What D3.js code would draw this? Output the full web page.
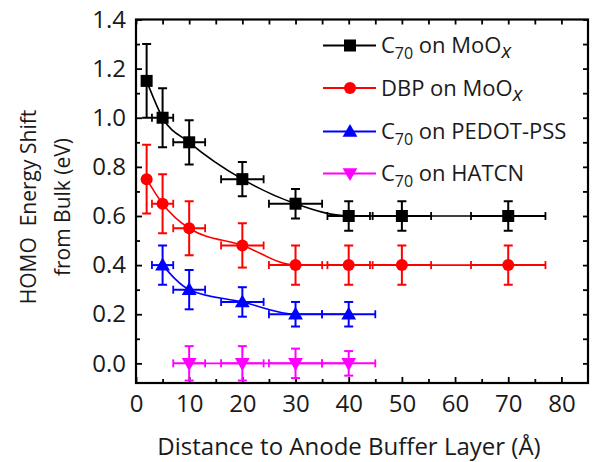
<!DOCTYPE html>
<html><head><meta charset="utf-8">
<script src="https://cdn.jsdelivr.net/npm/d3@7"></script>
<style>
html,body{margin:0;padding:0;background:#fff;}
text{font-family:"Open Sans",sans-serif;}
</style></head>
<body>
<svg id="chart" width="595" height="462"></svg>
<script>
// ---- data ----
const c70MoOxX    = [2, 5, 10, 20, 30, 40, 50, 70];
const c70MoOxY    = [1.15, 1.00, 0.90, 0.75, 0.65, 0.60, 0.60, 0.60];
const c70MoOxYErr = [0.15, 0.12, 0.09, 0.07, 0.06, 0.06, 0.06, 0.06];
const c70MoOxXErr = [0, 2, 3, 4, 5, 4, 5.5, 7];

const dbpMoOxX    = [2, 5, 10, 20, 30, 40, 50, 70];
const dbpMoOxY    = [0.75, 0.65, 0.55, 0.48, 0.40, 0.40, 0.40, 0.40];
const dbpMoOxYErr = [0.14, 0.12, 0.11, 0.09, 0.08, 0.08, 0.08, 0.08];
const dbpMoOxXErr = [0, 2, 3, 4, 5, 4, 5.5, 7];

const c70PedotX    = [5, 10, 20, 30, 40];
const c70PedotY    = [0.40, 0.30, 0.25, 0.20, 0.20];
const c70PedotYErr = [0.08, 0.08, 0.06, 0.05, 0.05];
const c70PedotXErr = [2, 3, 4, 5, 5];

const c70HatcnX    = [10, 20, 30, 40];
const c70HatcnY    = [0.00, 0.00, 0.00, 0.00];
const c70HatcnYErr = [0.07, 0.07, 0.06, 0.05];
const c70HatcnXErr = [3, 4, 5, 5];

const xTicks = [0, 10, 20, 30, 40, 50, 60, 70, 80];
const yTicks = [0.0, 0.2, 0.4, 0.6, 0.8, 1.0, 1.2, 1.4];
const xTitle = "Distance to Anode Buffer Layer (Å)";
const yTitle1 = "HOMO  Energy Shift";
const yTitle2 = "from Bulk (eV)";

const seriesList = [
  {name:["C", "70", " on MoO", "x"], color:"#000000", shape:"square", x:c70MoOxX, y:c70MoOxY, ye:c70MoOxYErr, xe:c70MoOxXErr},
  {name:["DBP on MoO", "", "", "x"], color:"#ff0000", shape:"circle", x:dbpMoOxX, y:dbpMoOxY, ye:dbpMoOxYErr, xe:dbpMoOxXErr},
  {name:["C", "70", " on PEDOT-PSS", ""], color:"#0000ff", shape:"triangle", x:c70PedotX, y:c70PedotY, ye:c70PedotYErr, xe:c70PedotXErr},
  {name:["C", "70", " on HATCN", ""], color:"#ff00ff", shape:"triangleDown", x:c70HatcnX, y:c70HatcnY, ye:c70HatcnYErr, xe:c70HatcnXErr}
];

// ---- layout ----
const L = 136, R = 588, T = 19.5, B = 383;
const svg = d3.select("#chart");
const x = d3.scaleLinear().domain([0, 85]).range([L, R]);
const y = d3.scaleLinear().domain([-0.08, 1.4]).range([B, T]);

svg.append("clipPath").attr("id","clip").append("rect")
  .attr("x", L).attr("y", T).attr("width", R-L).attr("height", B-T);

// ---- axes (ticks inward) ----
const xMinor = d3.range(5, 85, 10);
const yMinor = d3.range(0.1, 1.4, 0.2);
const fmt = d3.format(".1f");

const gB = svg.append("g").attr("transform", `translate(0,${B})`)
  .call(d3.axisBottom(x).tickValues(xTicks).tickSizeInner(-6).tickSizeOuter(0).tickPadding(12).tickFormat(d3.format("d")));
const gBm = svg.append("g").attr("transform", `translate(0,${B})`)
  .call(d3.axisBottom(x).tickValues(xMinor).tickSizeInner(-4).tickSizeOuter(0).tickFormat(""));
const gT = svg.append("g").attr("transform", `translate(0,${T})`)
  .call(d3.axisTop(x).tickValues(xTicks.concat(xMinor)).tickSizeInner(-5).tickSizeOuter(0).tickFormat(""));
const gL = svg.append("g").attr("transform", `translate(${L},0)`)
  .call(d3.axisLeft(y).tickValues(yTicks).tickSizeInner(-6).tickSizeOuter(0).tickPadding(10).tickFormat(fmt));
const gLm = svg.append("g").attr("transform", `translate(${L},0)`)
  .call(d3.axisLeft(y).tickValues(yMinor).tickSizeInner(-4).tickSizeOuter(0).tickFormat(""));
const gR = svg.append("g").attr("transform", `translate(${R},0)`)
  .call(d3.axisRight(y).tickValues(yTicks.concat(yMinor)).tickSizeInner(-5).tickSizeOuter(0).tickFormat(""));

[gB,gBm,gT,gL,gLm,gR].forEach(g=>{
  g.select(".domain").remove();
  g.selectAll(".tick line").attr("stroke","#000").attr("stroke-width",1.8);
  g.selectAll(".tick text").attr("fill","#1a1a1a").style("font-size","24px").style("font-family","'Open Sans',sans-serif");
});
svg.append("rect").attr("x", L).attr("y", T).attr("width", R-L).attr("height", B-T)
  .attr("fill","none").attr("stroke","#000").attr("stroke-width",2.2);

// ---- titles ----
svg.append("text").attr("x", 349).attr("y", 455).attr("text-anchor","middle")
  .style("font-size","24px").attr("fill","#1a1a1a").text(xTitle);
svg.append("text").attr("transform","translate(28,207) rotate(-90)").attr("text-anchor","middle")
  .attr("dominant-baseline","central").style("font-size","21px").attr("fill","#1a1a1a").style("white-space","pre")
  .attr("xml:space","preserve").text(yTitle1);
svg.append("text").attr("transform","translate(62,207) rotate(-90)").attr("text-anchor","middle")
  .attr("dominant-baseline","central").style("font-size","21px").attr("fill","#1a1a1a").text(yTitle2);

// ---- symbols ----
function drawMarker(g, shape, cx, cy, color){
  if(shape==="square"){
    g.append("rect").attr("x",cx-6).attr("y",cy-6).attr("width",12).attr("height",12).attr("fill",color);
  } else if(shape==="circle"){
    g.append("circle").attr("cx",cx).attr("cy",cy).attr("r",6).attr("fill",color);
  } else {
    const sym = d3.symbol().type(d3.symbolTriangle).size(95);
    g.append("path").attr("d", sym()).attr("fill",color)
      .attr("transform",`translate(${cx},${cy + (shape==="triangle"? 1 : -1)}) rotate(${shape==="triangle"?0:180})`);
  }
}

const plot = svg.append("g").attr("clip-path","url(#clip)");
const order = [3,2,1,0];
order.forEach(i=>{
  const s = seriesList[i];
  const g = plot.append("g");
  const pts = s.x.map((xv,k)=>({x:xv, y:s.y[k], ye:s.ye[k], xe:s.xe[k]}));
  const line = d3.line().x(d=>x(d.x)).y(d=>y(d.y)).curve(d3.curveMonotoneX);
  g.append("path").datum(pts).attr("d", line).attr("fill","none").attr("stroke",s.color).attr("stroke-width",1.6);
  pts.forEach(d=>{
    const cx = x(d.x), cy = y(d.y);
    const yt = y(d.y + d.ye), yb = y(d.y - d.ye);
    g.append("line").attr("x1",cx).attr("x2",cx).attr("y1",yt).attr("y2",yb).attr("stroke",s.color).attr("stroke-width",2);
    [yt,yb].forEach(yy=> g.append("line").attr("x1",cx-4.5).attr("x2",cx+4.5).attr("y1",yy).attr("y2",yy).attr("stroke",s.color).attr("stroke-width",2));
    if(d.xe>0){
      const xl = x(d.x - d.xe), xr = x(d.x + d.xe);
      g.append("line").attr("x1",xl).attr("x2",xr).attr("y1",cy).attr("y2",cy).attr("stroke",s.color).attr("stroke-width",2);
      [xl,xr].forEach(xx=> g.append("line").attr("x1",xx).attr("x2",xx).attr("y1",cy-4).attr("y2",cy+4).attr("stroke",s.color).attr("stroke-width",1.8));
    }
    drawMarker(g, s.shape, cx, cy, s.color);
  });
});

// ---- legend ----
const legY = [45.5, 88, 131.5, 173.5];
seriesList.forEach((s,i)=>{
  const g = svg.append("g");
  const yy = legY[i];
  g.append("line").attr("x1",323).attr("x2",376).attr("y1",yy).attr("y2",yy).attr("stroke",s.color).attr("stroke-width",2);
  drawMarker(g, s.shape, 350, yy, s.color);
  const t = g.append("text").attr("x",381).attr("y",yy+7.5).style("font-size","22px").attr("fill","#1a1a1a");
  const [a, sub, b, xs] = s.name;
  t.append("tspan").text(a);
  if(sub){
    t.append("tspan").attr("dy",6).style("font-size","16px").text(sub);
    t.append("tspan").attr("dy",-6).attr("xml:space","preserve").text(b);
  }
  if(xs){
    t.append("tspan").attr("dy",5).style("font-size","20px").style("font-style","italic").text(xs);
  }
});
</script>
</body></html>
